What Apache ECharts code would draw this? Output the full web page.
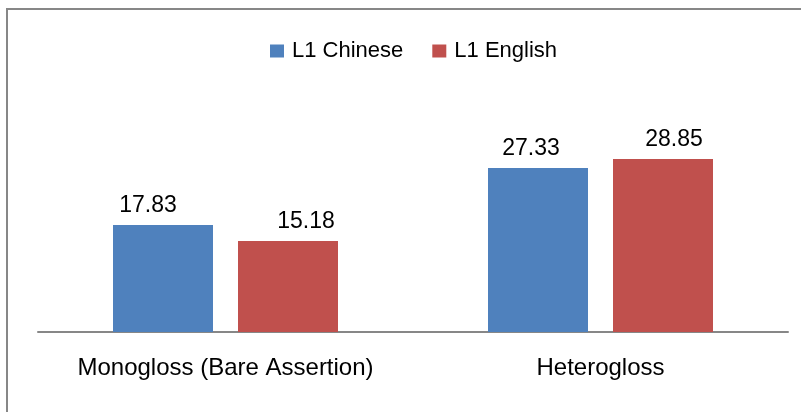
<!DOCTYPE html>
<html>
<head>
<meta charset="utf-8">
<script src="https://cdn.jsdelivr.net/npm/echarts@6/dist/echarts.min.js"></script>
<style>
html,body{margin:0;padding:0;background:#fff;}
#c{width:801px;height:412px;}
</style>
</head>
<body>
<div id="c"></div>
<script>
const categories = ['Monogloss (Bare Assertion)', 'Heterogloss'];
const seriesNames = ['L1 Chinese', 'L1 English'];
const chineseValues = [17.83, 27.33];
const englishValues = [15.18, 28.85];

// label horizontal nudges (styling only)
const chineseLabelShift = [-15, -7];
const englishLabelShift = [18, 11];

const FONT = '"Liberation Sans", Arial, sans-serif';

function buildData(values, shifts) {
  return values.map((v, i) => ({ value: v, label: { offset: [shifts[i], 0] } }));
}

const chart = echarts.init(document.getElementById('c'), null, { renderer: 'canvas' });
chart.setOption({
  animation: false,
  backgroundColor: '#ffffff',
  graphic: [{
    type: 'rect',
    shape: { x: 7, y: 9, width: 1000, height: 1000 },
    style: { fill: 'none', stroke: '#878787', lineWidth: 2 },
    silent: true
  }],
  legend: {
    top: 35,
    left: 265,
    itemWidth: 14,
    itemHeight: 13,
    itemGap: 29,
    icon: 'rect',
    textStyle: { fontFamily: FONT, fontSize: 22, color: '#000', padding: [0, 0, 0, 3] },
    data: seriesNames
  },
  grid: { left: 38, right: 13, top: 92, bottom: 80 },
  xAxis: {
    type: 'category',
    data: categories,
    axisLine: { lineStyle: { color: '#878787', width: 2 } },
    axisTick: { show: false },
    axisLabel: { interval: 0, fontFamily: FONT, fontSize: 24, color: '#000', margin: 24 }
  },
  yAxis: {
    type: 'value',
    min: 0,
    max: 40,
    show: false,
    splitLine: { show: false }
  },
  series: [
    {
      name: seriesNames[0],
      type: 'bar',
      data: buildData(chineseValues, chineseLabelShift),
      itemStyle: { color: '#4F81BD' },
      barGap: '25%',
      barCategoryGap: '40%',
      label: { show: true, position: 'top', distance: 8, fontFamily: FONT, fontSize: 23, color: '#000', formatter: p => p.value.toFixed(2) }
    },
    {
      name: seriesNames[1],
      type: 'bar',
      data: buildData(englishValues, englishLabelShift),
      itemStyle: { color: '#C0504D' },
      barGap: '25%',
      barCategoryGap: '40%',
      label: { show: true, position: 'top', distance: 8, fontFamily: FONT, fontSize: 23, color: '#000', formatter: p => p.value.toFixed(2) }
    }
  ]
});
</script>
</body>
</html>
